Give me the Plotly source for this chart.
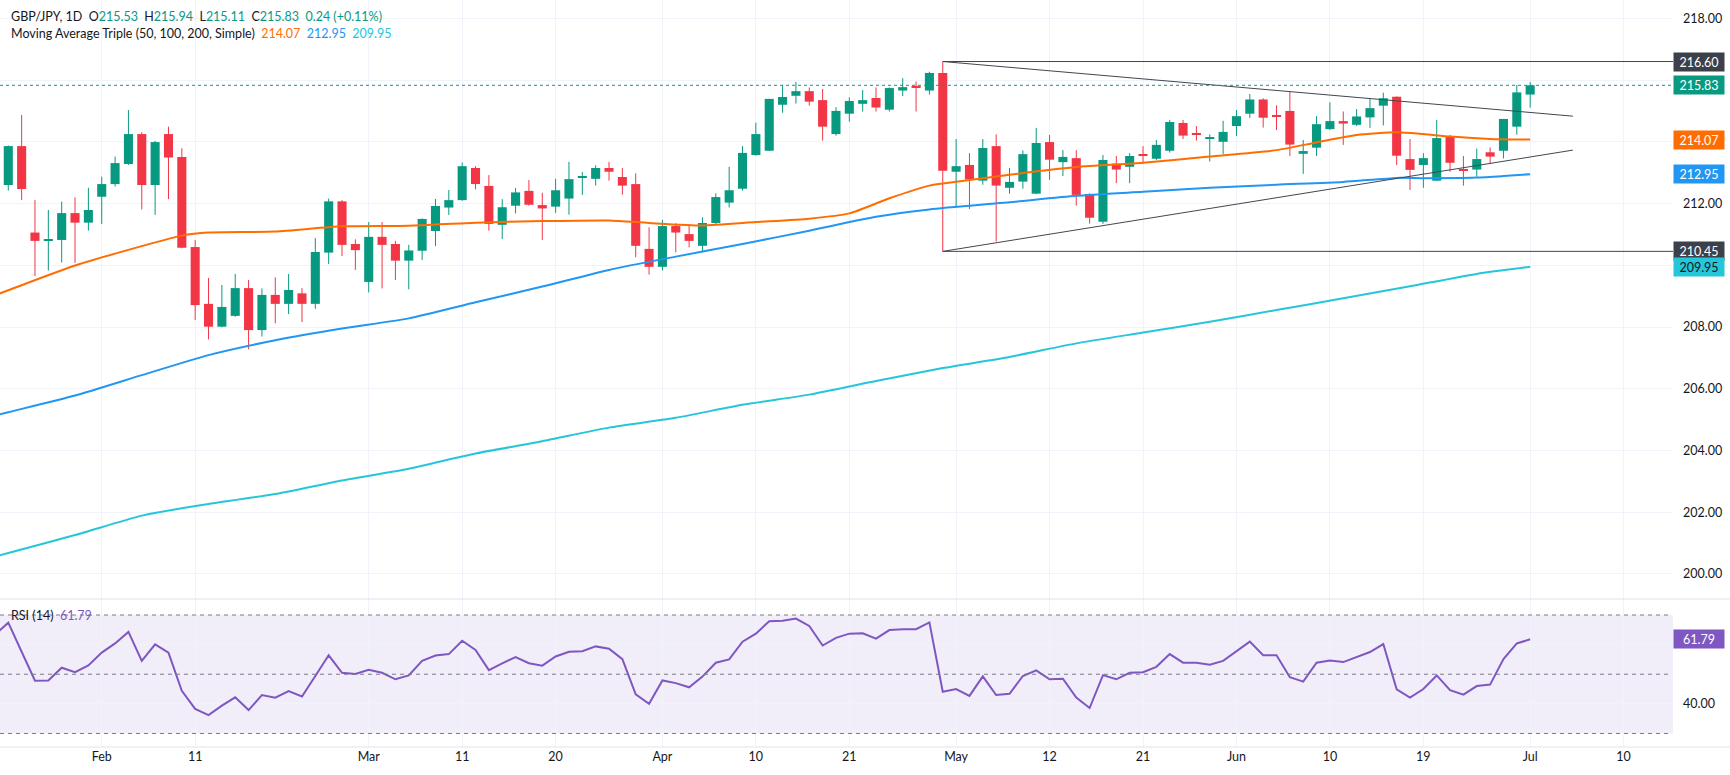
import pandas as pd
import plotly.graph_objects as go

# ---------------- data ----------------
first_session = "2026-01-21"   # session 0: indicator values only, candles start at session 1

opens = [212.60, 213.86, 211.06, 210.80, 210.82, 211.69, 211.38, 212.22, 212.63, 213.28,
         214.25, 212.60, 214.25, 213.51, 210.59, 208.75, 208.01, 208.36, 209.26, 207.90,
         209.04, 208.75, 209.09, 208.75, 210.41, 212.07, 210.69, 209.46, 210.92, 210.69,
         210.15, 210.47, 211.11, 211.87, 212.11, 213.15, 212.57, 211.31, 211.93, 212.41,
         211.95, 211.90, 212.16, 212.85, 212.80, 213.15, 212.86, 212.63, 210.53, 209.95,
         211.27, 211.01, 210.63, 211.37, 212.03, 212.48, 213.57, 213.71, 215.20, 215.49,
         215.64, 215.35, 214.25, 214.91, 215.23, 215.42, 215.04, 215.66, 215.81, 215.66,
         216.23, 213.03, 213.25, 212.74, 213.86, 212.51, 212.71, 212.32, 213.99, 213.34,
         213.47, 212.31, 211.41, 213.29, 213.19, 213.57, 213.45, 213.71, 214.61, 214.24,
         214.10, 214.00, 214.51, 214.91, 215.37, 214.85, 215.00, 213.61, 213.81, 214.41,
         214.67, 214.55, 214.79, 215.17, 215.46, 213.44, 213.25, 212.74, 214.17, 213.12,
         213.10, 213.66, 213.71, 214.49, 215.53]
highs = [213.88, 214.87, 212.11, 211.79, 212.06, 212.20, 212.51, 212.87, 213.52, 215.03,
         214.31, 214.03, 214.49, 213.79, 210.82, 209.59, 209.36, 209.72, 209.52, 209.25,
         209.61, 209.72, 209.26, 210.88, 212.16, 212.11, 210.84, 211.40, 211.40, 210.79,
         210.66, 211.52, 212.15, 212.44, 213.33, 213.21, 212.92, 212.14, 212.50, 212.76,
         212.35, 212.80, 213.35, 213.02, 213.24, 213.35, 213.15, 212.98, 211.23, 211.47,
         211.36, 211.34, 211.55, 212.33, 213.19, 213.86, 214.62, 215.39, 215.84, 215.94,
         215.76, 215.71, 215.12, 215.44, 215.68, 215.76, 215.76, 216.06, 215.95, 216.27,
         216.60, 214.09, 213.63, 214.09, 214.24, 213.15, 213.72, 214.45, 214.22, 213.73,
         213.73, 212.33, 213.57, 213.54, 213.63, 213.86, 214.06, 214.71, 214.71, 214.51,
         214.24, 214.68, 215.03, 215.55, 215.41, 215.18, 215.62, 214.06, 214.83, 215.28,
         214.98, 215.06, 215.40, 215.59, 215.47, 214.09, 213.63, 214.71, 214.22, 213.54,
         213.78, 213.82, 214.74, 215.84, 215.94]
lows = [212.42, 212.11, 209.65, 209.83, 210.09, 210.08, 211.12, 211.34, 212.55, 213.25,
        211.81, 211.63, 212.14, 210.55, 208.23, 207.60, 207.99, 208.33, 207.28, 207.69,
        208.12, 208.42, 208.16, 208.59, 210.04, 210.30, 209.85, 209.12, 209.25, 209.52,
        209.22, 210.17, 210.62, 211.63, 212.09, 212.46, 211.12, 210.85, 211.68, 211.93,
        210.82, 211.70, 211.64, 212.28, 212.58, 212.74, 212.29, 210.26, 209.70, 209.83,
        210.42, 210.58, 210.42, 211.29, 211.87, 212.42, 213.55, 213.70, 214.94, 215.24,
        215.17, 214.04, 214.20, 214.65, 214.98, 214.98, 214.98, 215.48, 214.98, 215.53,
        210.45, 211.88, 211.82, 212.61, 210.77, 212.32, 212.48, 212.30, 212.77, 212.89,
        211.93, 211.35, 211.34, 212.66, 212.66, 213.28, 213.41, 213.65, 214.09, 214.04,
        213.36, 213.60, 214.19, 214.77, 214.46, 214.38, 213.54, 212.96, 213.54, 214.38,
        213.90, 214.51, 214.45, 214.53, 213.25, 212.44, 212.51, 212.74, 213.03, 212.58,
        212.87, 213.28, 213.46, 214.23, 215.11]
closes = [213.86, 212.47, 210.79, 210.85, 211.69, 211.38, 211.79, 212.63, 213.31, 214.25,
          212.60, 213.99, 213.49, 210.57, 208.71, 208.01, 208.65, 209.26, 207.90, 209.04,
          208.75, 209.20, 208.75, 210.43, 212.07, 210.66, 210.49, 210.92, 210.66, 210.15,
          210.48, 211.50, 211.92, 212.11, 213.21, 212.63, 211.34, 211.88, 212.36, 211.96,
          211.84, 212.43, 212.79, 212.87, 213.15, 213.03, 212.58, 210.63, 209.95, 211.27,
          211.06, 210.79, 211.37, 212.21, 212.43, 213.64, 214.25, 215.39, 215.45, 215.64,
          215.30, 214.49, 215.00, 215.32, 215.35, 215.11, 215.74, 215.77, 215.75, 216.23,
          213.06, 213.21, 212.78, 213.80, 212.58, 212.70, 213.60, 213.96, 213.42, 213.51,
          212.28, 211.54, 213.41, 213.10, 213.54, 213.55, 213.90, 214.64, 214.20, 214.22,
          214.12, 214.32, 214.83, 215.37, 214.78, 214.82, 213.91, 213.70, 214.57, 214.67,
          214.59, 214.82, 215.09, 215.41, 213.55, 213.09, 213.47, 214.12, 213.32, 213.07,
          213.44, 213.52, 214.74, 215.60, 215.83]

# RSI(14), one value per session starting at session 0
rsi_values = [63.4,
              67.4, 57.6, 47.8, 47.9, 52.2, 50.7, 53.0, 57.3, 60.4, 64.3,
              54.5, 60.1, 57.3, 44.4, 38.3, 36.2, 39.4, 42.2, 37.9, 43.0,
              42.1, 44.3, 42.5, 49.4, 56.4, 50.5, 50.1, 51.5, 50.5, 48.3,
              49.6, 54.5, 56.3, 56.8, 61.3, 58.2, 51.4, 53.7, 55.8, 53.7,
              52.9, 56.0, 57.6, 57.8, 59.4, 58.6, 55.1, 43.2, 40.0, 47.9,
              47.0, 45.6, 49.2, 53.9, 55.0, 61.0, 63.7, 67.9, 68.1, 68.8,
              66.3, 59.7, 62.3, 63.7, 63.8, 62.0, 64.9, 65.2, 65.2, 67.5,
              44.1, 45.0, 42.7, 49.3, 43.0, 43.4, 49.4, 51.3, 48.3, 48.5,
              42.1, 38.6, 49.7, 48.3, 50.5, 50.7, 52.5, 56.8, 53.9, 53.9,
              53.2, 54.5, 57.7, 61.0, 56.4, 56.4, 49.0, 47.5, 53.9, 54.6,
              54.1, 55.8, 57.5, 60.2, 44.9, 42.1, 45.0, 49.6, 44.6, 43.1,
              46.0, 46.5, 55.1, 60.4, 61.79]

# Moving averages, read at sample sessions
ma50_sessions = [0, 1, 6, 11, 14, 16, 21, 26, 31, 36, 41, 46, 49, 53, 57, 61, 64, 67, 70, 71,
                 76, 81, 86, 91, 96, 99, 102, 105, 107, 109, 112, 115]
ma50_values = [209.03, 209.19, 209.99, 210.62, 210.96, 211.06, 211.09, 211.26, 211.28, 211.38,
               211.43, 211.45, 211.37, 211.29, 211.40, 211.51, 211.68, 212.17, 212.58, 212.65,
               212.93, 213.18, 213.32, 213.52, 213.73, 213.98, 214.22, 214.31, 214.25, 214.17,
               214.09, 214.07]
ma100_sessions = [0, 1, 6, 11, 16, 21, 26, 31, 36, 41, 46, 51, 56, 61, 66, 70, 76, 81, 86, 91,
                  96, 101, 105, 107, 111, 113, 115]
ma100_values = [205.13, 205.24, 205.78, 206.44, 207.09, 207.57, 207.95, 208.28, 208.80, 209.31,
                209.85, 210.28, 210.69, 211.12, 211.57, 211.81, 212.04, 212.25, 212.38, 212.51,
                212.61, 212.70, 212.83, 212.82, 212.84, 212.89, 212.95]
ma200_sessions = [0, 1, 6, 11, 14, 16, 21, 26, 31, 36, 41, 46, 51, 56, 61, 66, 71, 76, 81, 86,
                  91, 96, 101, 106, 111, 115]
ma200_values = [200.56, 200.68, 201.26, 201.89, 202.13, 202.27, 202.59, 203.03, 203.41, 203.90,
                204.30, 204.74, 205.06, 205.48, 205.81, 206.25, 206.67, 207.03, 207.47, 207.82,
                208.17, 208.55, 208.93, 209.32, 209.72, 209.95]

# Drawn triangle (session, price)
upper_trend = [(71, 216.60), (118.2, 214.83)]
lower_trend = [(71, 210.45), (118.2, 213.73)]
range_top = 216.60
range_bottom = 210.45

tick_dates = ["2026-02-02", "2026-02-11", "2026-03-02", "2026-03-11", "2026-03-20", "2026-04-01",
              "2026-04-10", "2026-04-21", "2026-05-01", "2026-05-12", "2026-05-21", "2026-06-01",
              "2026-06-10", "2026-06-19", "2026-07-01", "2026-07-10"]
tick_labels = ["Feb", "11", "Mar", "11", "20", "Apr", "10", "21", "May", "12", "21", "Jun",
               "10", "19", "Jul", "10"]
price_ticks = [200, 202, 204, 206, 208, 210, 212, 214, 216, 218]
price_tick_hidden = [210, 214, 216]   # covered by the value tags in the reference
rsi_ticks = [40, 60]

last_change = "0.24 (+0.11%)"
last_rsi = 61.79
ma50_last, ma100_last, ma200_last = 214.07, 212.95, 209.95

# ---------------- styling ----------------
GREEN = "#089981"
RED = "#f23645"
ORANGE = "#ff6d00"
BLUE = "#2196f3"
CYAN = "#26c6da"
PURPLE = "#7e57c2"
DRAW = "#434651"
TEXT = "#131722"
GRID = "#f0f3fa"
FONT = "Lato, Roboto, sans-serif"

sessions = pd.bdate_range(first_session, periods=160)
tick_x = [sessions.get_loc(pd.Timestamp(d)) for d in tick_dates]
X_MIN, X_MAX = 0.38, 125.7
last_close = closes[-1]

fig = go.Figure()

# wicks
for want_up, col in ((True, GREEN), (False, RED)):
    wx, wy = [], []
    for i, (o, h, l, c) in enumerate(zip(opens, highs, lows, closes)):
        if (c >= o) == want_up:
            s = i + 1
            wx += [s, s, None]
            wy += [l, h, None]
    fig.add_trace(go.Scatter(x=wx, y=wy, mode="lines", line=dict(color=col, width=1),
                             hoverinfo="skip", showlegend=False, xaxis="x", yaxis="y"))

# bodies
for want_up, col in ((True, GREEN), (False, RED)):
    bx, bbase, bh = [], [], []
    for i, (o, c) in enumerate(zip(opens, closes)):
        if (c >= o) == want_up:
            bx.append(i + 1)
            bbase.append(min(o, c))
            bh.append(max(abs(c - o), 0.035))
    fig.add_trace(go.Bar(x=bx, y=bh, base=bbase, width=0.68, marker=dict(color=col, line=dict(width=0)),
                         hoverinfo="skip", showlegend=False, xaxis="x", yaxis="y"))

# moving averages
for xs, ys, col in ((ma200_sessions, ma200_values, CYAN), (ma100_sessions, ma100_values, BLUE),
                    (ma50_sessions, ma50_values, ORANGE)):
    fig.add_trace(go.Scatter(x=xs, y=ys, mode="lines", line=dict(color=col, width=2, shape="spline", smoothing=0.6),
                             hoverinfo="skip", showlegend=False, xaxis="x", yaxis="y"))

# drawings
for pts in (upper_trend, lower_trend):
    fig.add_trace(go.Scatter(x=[p[0] for p in pts], y=[p[1] for p in pts], mode="lines",
                             line=dict(color=DRAW, width=1), hoverinfo="skip", showlegend=False,
                             xaxis="x", yaxis="y"))
for lvl in (range_top, range_bottom):
    fig.add_trace(go.Scatter(x=[upper_trend[0][0], X_MAX + 5], y=[lvl, lvl], mode="lines",
                             line=dict(color=DRAW, width=1), hoverinfo="skip", showlegend=False,
                             xaxis="x", yaxis="y", cliponaxis=True))

# RSI
fig.add_trace(go.Scatter(x=list(range(len(rsi_values))), y=rsi_values, mode="lines",
                         line=dict(color=PURPLE, width=2), hoverinfo="skip", showlegend=False,
                         xaxis="x2", yaxis="y2"))

SPLIT = (747 - 599) / 747

shapes = [
    dict(type="rect", xref="x2 domain", yref="y2", x0=0, x1=1, y0=30, y1=70,
         fillcolor="rgba(126,87,194,0.10)", line=dict(width=0), layer="below"),
    dict(type="line", xref="x domain", yref="y", x0=0, x1=1, y0=last_close, y1=last_close,
         line=dict(color=GREEN, width=1, dash="dot")),
    dict(type="line", xref="paper", yref="paper", x0=0, x1=1.04, y0=SPLIT, y1=SPLIT,
         line=dict(color="#e0e3eb", width=1)),
    dict(type="line", xref="paper", yref="paper", x0=0, x1=1.04, y0=0, y1=0,
         line=dict(color="#e0e3eb", width=1)),
]
for lvl in (70, 50, 30):
    shapes.append(dict(type="line", xref="x2 domain", yref="y2", x0=0, x1=0.997, y0=lvl, y1=lvl,
                       line=dict(color="#787b86", width=1, dash="4px,4px")))

NB = "\u00a0"
def span(t, c):
    return f'<span style="color:{c}">{t}</span>'

line1 = (f"GBP/JPY, 1D{NB}{NB}O{span(f'{opens[-1]:.2f}', GREEN)}{NB}{NB}H{span(f'{highs[-1]:.2f}', GREEN)}"
         f"{NB}{NB}L{span(f'{lows[-1]:.2f}', GREEN)}{NB}{NB}C{span(f'{closes[-1]:.2f}', GREEN)}"
         f"{NB}{NB}{span(last_change, GREEN)}")
line2 = (f"Moving Average Triple (50, 100, 200, Simple){NB}{NB}{span(f'{ma50_last:.2f}', ORANGE)}"
         f"{NB}{NB}{span(f'{ma100_last:.2f}', BLUE)}{NB}{NB}{span(f'{ma200_last:.2f}', CYAN)}")
rsi_label = f"RSI (14){NB}{NB}{span(f'{last_rsi:.2f}', PURPLE)}"

annotations = [
    dict(xref="paper", yref="paper", x=9 / 1673, y=1 - 16.5 / 747, xanchor="left", yanchor="middle",
         text=line1, showarrow=False, font=dict(family=FONT, size=12.5, color=TEXT)),
    dict(xref="paper", yref="paper", x=9 / 1673, y=1 - 33.5 / 747, xanchor="left", yanchor="middle",
         text=line2, showarrow=False, font=dict(family=FONT, size=12.5, color=TEXT)),
    dict(xref="paper", yref="y2", x=9 / 1673, y=70, xanchor="left", yanchor="middle",
         text=rsi_label, showarrow=False, font=dict(family=FONT, size=12.5, color=TEXT)),
]

boxes = [(range_top, "#3c404b", "white", "y"), (last_close, GREEN, "white", "y"),
         (ma50_last, ORANGE, "white", "y"), (ma100_last, BLUE, "white", "y"),
         (range_bottom, "#3c404b", "white", "y"), (ma200_last, CYAN, TEXT, "y"),
         (last_rsi, PURPLE, "white", "y2")]
for val, bg, fc, yr in boxes:
    annotations.append(dict(xref="paper", yref=yr, x=1, y=val, xanchor="left", yanchor="middle",
                            text=f"{val:.2f}", showarrow=False, bgcolor=bg, width=48, height=16,
                            borderpad=1, align="center", font=dict(family=FONT, size=12.5, color=fc)))

fig.update_layout(
    width=1730, height=775,
    margin=dict(l=0, r=57, t=0, b=28),
    paper_bgcolor="white", plot_bgcolor="white",
    barmode="overlay", showlegend=False, hovermode=False,
    font=dict(family=FONT, color=TEXT, size=12),
    xaxis=dict(domain=[0, 1], anchor="y", range=[X_MIN, X_MAX], tickvals=tick_x, showticklabels=False,
               showgrid=True, gridcolor=GRID, zeroline=False, ticks="", fixedrange=True),
    xaxis2=dict(domain=[0, 1], anchor="y2", range=[X_MIN, X_MAX], tickvals=tick_x, ticktext=tick_labels,
                showgrid=True, gridcolor=GRID, zeroline=False, ticks="", tickfont=dict(size=12.5, color=TEXT),
                fixedrange=True),
    yaxis=dict(domain=[SPLIT, 1], anchor="x", range=[199.189, 218.593], side="right",
               tickvals=price_ticks,
               ticktext=["" if v in price_tick_hidden else f"{v:.2f}" for v in price_ticks],
               showgrid=True, gridcolor=GRID, zeroline=False, ticks="", ticklabelstandoff=9,
               tickfont=dict(size=12.5, color=TEXT), fixedrange=True),
    yaxis2=dict(domain=[0, SPLIT], anchor="x2", range=[25.44, 75.4], side="right",
                tickvals=rsi_ticks, ticktext=["40.00", ""], showgrid=True, gridcolor=GRID,
                zeroline=False, ticks="", ticklabelstandoff=9, tickfont=dict(size=12.5, color=TEXT),
                fixedrange=True),
    shapes=shapes,
    annotations=annotations,
)

fig.write_html("out.html")
